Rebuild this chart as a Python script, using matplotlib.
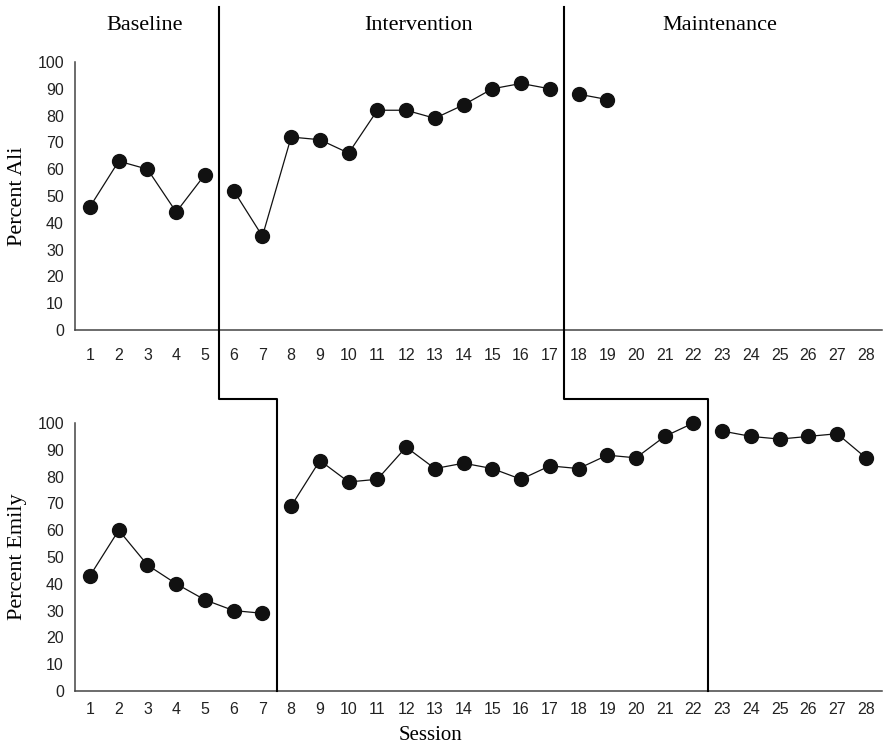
import matplotlib
matplotlib.use('Agg')
import matplotlib.pyplot as plt
from matplotlib.lines import Line2D

# data
sessions = list(range(1, 29))

ali_phases = [
    ([1, 2, 3, 4, 5], [46, 63, 60, 44, 58]),
    ([6, 7, 8, 9, 10, 11, 12, 13, 14, 15, 16, 17],
     [52, 35, 72, 71, 66, 82, 82, 79, 84, 90, 92, 90]),
    ([18, 19], [88, 86]),
]

emily_phases = [
    ([1, 2, 3, 4, 5, 6, 7], [43, 60, 47, 40, 34, 30, 29]),
    ([8, 9, 10, 11, 12, 13, 14, 15, 16, 17, 18, 19, 20, 21, 22],
     [69, 86, 78, 79, 91, 83, 85, 83, 79, 84, 83, 88, 87, 95, 100]),
    ([23, 24, 25, 26, 27, 28], [97, 95, 94, 95, 96, 87]),
]

phase_names = ['Baseline', 'Intervention', 'Maintenance']
ali_changes = [5.5, 17.5]
emily_changes = [7.5, 22.5]

W, H = 884, 748
fig = plt.figure(figsize=(W / 100, H / 100), dpi=100)

serif = 'Liberation Serif'
sans = 'Liberation Sans'
AX_L, AX_R = 75, 882


def make_ax(top_px, bottom_px, pad_x):
    ax = fig.add_axes([AX_L / W, 1 - bottom_px / H, (AX_R - AX_L) / W, (bottom_px - top_px) / H])
    ax.set_xlim(0.478, 28.56)
    ax.set_ylim(0, 100)
    for s in ['top', 'right']:
        ax.spines[s].set_visible(False)
    for s in ['left', 'bottom']:
        ax.spines[s].set_color('#444444')
        ax.spines[s].set_linewidth(1.1)
    ax.set_xticks(sessions)
    ax.set_yticks(range(0, 101, 10))
    ax.tick_params(axis='both', length=0, labelsize=11.5, colors='#222222')
    ax.tick_params(axis='x', pad=pad_x)
    ax.tick_params(axis='y', pad=8)
    for lab in ax.get_xticklabels() + ax.get_yticklabels():
        lab.set_fontfamily(sans)
    return ax


ax1 = make_ax(62, 330, 13)
ax2 = make_ax(423, 691, 8)

for ax, phases in [(ax1, ali_phases), (ax2, emily_phases)]:
    for xs, ys in phases:
        ax.plot(xs, ys, color='#111111', lw=0.9, marker='o', ms=10,
                markerfacecolor='#111111', markeredgecolor='#111111', clip_on=False)

lab_x = (27 - AX_L) / (AX_R - AX_L)
ax1.set_ylabel('Percent Ali', fontfamily=serif, fontsize=16)
ax2.set_ylabel('Percent Emily', fontfamily=serif, fontsize=16)
ax1.yaxis.set_label_coords(lab_x, 0.5)
ax2.yaxis.set_label_coords(lab_x, 0.5)

fig.text(430 / W, 1 - 736 / H, 'Session', fontfamily=serif, fontsize=15,
         ha='center', va='center')

# phase labels
for name, px in zip(phase_names, [145, 419, 720]):
    fig.text(px / W, 1 - 25 / H, name, fontfamily=serif, fontsize=16,
             ha='center', va='center')

# stepped phase change lines across both panels
inv = fig.transFigure.inverted()


def fx(ax, x):
    return inv.transform(ax.transData.transform((x, 0)))[0]


y_top = 1 - 7 / H
y_step = 1 - 399 / H
y_bot = 1 - 691 / H
for xa, xe in zip(ali_changes, emily_changes):
    x1 = fx(ax1, xa)
    x2 = fx(ax2, xe)
    fig.add_artist(Line2D([x1, x1, x2, x2], [y_top, y_step, y_step, y_bot],
                          color='black', lw=1.5, transform=fig.transFigure))

fig.savefig('out.png', dpi=100)
